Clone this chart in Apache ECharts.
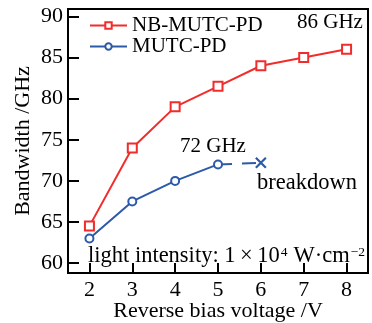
<!DOCTYPE html>
<html>
<head>
<meta charset="utf-8">
<style>html,body{margin:0;padding:0;background:#fff;}#c{width:372px;height:323px;}</style>
<script src="https://cdn.jsdelivr.net/npm/echarts@6/dist/echarts.min.js"></script>
</head>
<body>
<div id="c"></div>
<script>
const voltages = [2, 3, 4, 5, 6, 7, 8];
const nbMutc = [64.5, 74, 79, 81.5, 84, 85, 86];
const mutcV = [2, 3, 4, 5];
const mutc = [63, 67.5, 70, 72];
const breakdownV = [5, 6];
const breakdown = [72, 72.2];
const xTicks = [2, 3, 4, 5, 6, 7, 8];
const yTicks = [60, 65, 70, 75, 80, 85, 90];

const RED = '#f22b2b';
const BLUE = '#2c5aa8';
const FONT = 'Liberation Serif';
const BIG = '21px "Liberation Serif"';
const BIG2 = '22.5px "Liberation Serif"';
const SMALL = '13.5px "Liberation Serif"';

const ctx = document.createElement('canvas').getContext('2d');
function tw(t, f) { ctx.font = f; return ctx.measureText(t).width; }

const p1 = 'light intensity: 1\u2009×\u200910';
const p2 = '4';
const p3 = 'W\u00b7cm';
const p4 = '\u22122';
const x1 = 0;
const x2 = x1 + tw(p1, BIG2) + 1;
const x3 = x2 + tw(p2, SMALL) + 6;
const x4 = x3 + tw(p3, BIG2) + 1;

const chart = echarts.init(document.getElementById('c'), null, {renderer: 'canvas'});
chart.setOption({
  backgroundColor: '#fff',
  animation: false,
  textStyle: {fontFamily: FONT, color: '#000'},
  grid: {left: 68, right: 4, top: 9, bottom: 50, outerBoundsMode: 'none', containLabel: false, show: true, borderColor: '#000', borderWidth: 2, backgroundColor: 'transparent'},
  legend: {
    data: ['NB-MUTC-PD', 'MUTC-PD'],
    orient: 'vertical', left: 89, top: 15, itemGap: 0, itemWidth: 37, itemHeight: 8,
    textStyle: {fontFamily: FONT, fontSize: 21, color: '#000', lineHeight: 20},
    padding: 0
  },
  xAxis: {
    type: 'value', min: 1.5, max: 8.5,
    name: 'Reverse bias voltage /V', nameLocation: 'middle', nameGap: 27, nameMoveOverlap: false,
    nameTextStyle: {fontFamily: FONT, fontSize: 22, color: '#000'},
    axisLine: {show: false},
    axisTick: {show: true, inside: true, length: 10, lineStyle: {color: '#000', width: 2}, customValues: xTicks},
    axisLabel: {fontFamily: FONT, fontSize: 22, color: '#000', margin: 6, customValues: xTicks},
    splitLine: {show: false}
  },
  yAxis: {
    type: 'value', min: 58.8, max: 90.9,
    name: 'Bandwidth /GHz', nameLocation: 'middle', nameGap: 34, nameMoveOverlap: false,
    nameTextStyle: {fontFamily: FONT, fontSize: 22, color: '#000'},
    axisLine: {show: false},
    axisTick: {show: true, inside: true, length: 11, lineStyle: {color: '#000', width: 2}, customValues: yTicks},
    axisLabel: {fontFamily: FONT, fontSize: 22, color: '#000', margin: 5, customValues: yTicks},
    splitLine: {show: false}
  },
  series: [
    {
      name: 'NB-MUTC-PD', type: 'line',
      data: voltages.map((v, i) => [v, nbMutc[i]]),
      symbol: 'rect', symbolSize: 9,
      lineStyle: {color: RED, width: 2},
      itemStyle: {color: '#fff', borderColor: RED, borderWidth: 2},
      z: 3
    },
    {
      name: 'MUTC-PD', type: 'line',
      data: mutcV.map((v, i) => [v, mutc[i]]),
      symbol: 'circle', symbolSize: 8,
      lineStyle: {color: BLUE, width: 2},
      itemStyle: {color: '#fff', borderColor: BLUE, borderWidth: 2},
      z: 3
    },
    {
      name: 'breakdown', type: 'line',
      data: breakdownV.map((v, i) => [v, breakdown[i]]),
      symbol: (val, params) => params.dataIndex === 1 ? 'path://M0,0L10,10M10,0L0,10' : 'none',
      symbolSize: 10,
      lineStyle: {color: BLUE, width: 2, type: [14, 10]},
      itemStyle: {color: 'none', borderColor: BLUE, borderWidth: 2.2},
      z: 2
    }
  ],
  graphic: [
    {type: 'text', left: 297, top: 12, z: 10, style: {text: '86 GHz', font: BIG, fill: '#000'}},
    {type: 'text', left: 180, top: 136, z: 10, style: {text: '72 GHz', font: BIG, fill: '#000'}},
    {type: 'text', left: 257, top: 172, z: 10, style: {text: 'breakdown', font: BIG2, fill: '#000'}},
    {type: 'group', left: 88, top: 245, z: 10, children: [
      {type: 'text', x: x1, y: 0, style: {text: p1, font: BIG2, fill: '#000'}},
      {type: 'text', x: x2, y: 0, style: {text: p2, font: SMALL, fill: '#000'}},
      {type: 'text', x: x3, y: 0, style: {text: p3, font: BIG2, fill: '#000'}},
      {type: 'text', x: x4, y: 0, style: {text: p4, font: SMALL, fill: '#000'}}
    ]}
  ]
});
</script>
</body>
</html>
